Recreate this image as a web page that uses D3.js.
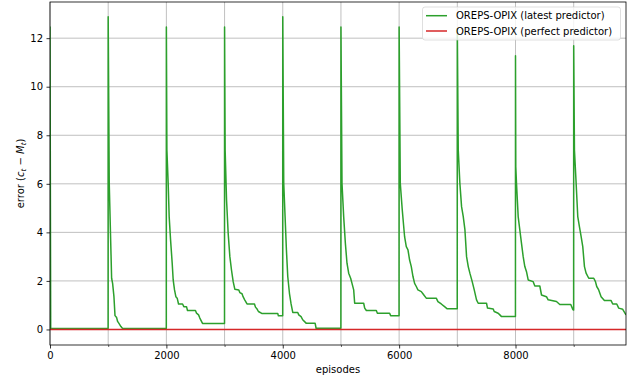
<!DOCTYPE html>
<html>
<head>
<meta charset="utf-8">
<script src="https://cdn.jsdelivr.net/npm/d3@7"></script>
<style>
	body { margin: 0; background: #fff; }
	text { font-family: 'DejaVu Sans', sans-serif; }
</style>
</head>
<body>
<svg id="chart"></svg>
<script>
const WIDTH = 628;
const HEIGHT = 381;
const MARGIN = { top: 2, right: 2, bottom: 36, left: 50 };

// error per episode as [episode, error] pairs, one list per 1000-episode cycle
const cycle0 = [[0, 12.48], [12, 0.04], [999, 0.04]];
const cycle1 = [[1000, 12.88], [1018, 6.02], [1059, 2.11], [1076, 1.9], [1099, 1.35], [1117, 0.57], [1145, 0.49], [1162, 0.33], [1190, 0.23], [1219, 0.12], [1248, 0.04], [1999, 0.04]];
const cycle2 = [[2000, 12.46], [2009, 7.39], [2031, 6.02], [2048, 4.65], [2072, 3.69], [2100, 2.73], [2117, 2.04], [2140, 1.63], [2163, 1.35], [2186, 1.29], [2209, 1.05], [2278, 1.05], [2300, 0.94], [2346, 0.94], [2363, 0.78], [2500, 0.78], [2518, 0.67], [2553, 0.6], [2575, 0.47], [2621, 0.25], [2999, 0.25]];
const cycle3 = [[3000, 12.46], [3010, 7.39], [3034, 5.33], [3062, 3.96], [3091, 3.0], [3119, 2.45], [3148, 1.97], [3176, 1.66], [3245, 1.63], [3262, 1.52], [3300, 1.47], [3318, 1.35], [3346, 1.22], [3386, 1.05], [3514, 1.05], [3531, 0.92], [3559, 0.84], [3582, 0.74], [3639, 0.66], [3914, 0.66], [3925, 0.56], [3999, 0.56]];
const cycle4 = [[4000, 12.88], [4017, 6.02], [4040, 4.65], [4063, 3.28], [4086, 2.18], [4115, 1.49], [4143, 1.05], [4172, 0.7], [4258, 0.7], [4275, 0.6], [4315, 0.53], [4343, 0.4], [4401, 0.26], [4556, 0.26], [4573, 0.05], [4999, 0.05]];
const cycle5 = [[5000, 12.46], [5018, 6.02], [5047, 4.65], [5076, 3.55], [5104, 2.73], [5133, 2.32], [5167, 2.11], [5190, 1.9], [5219, 1.63], [5236, 1.08], [5391, 1.08], [5408, 0.88], [5437, 0.78], [5608, 0.78], [5626, 0.67], [5837, 0.67], [5854, 0.57], [5999, 0.57]];
const cycle6 = [[6000, 12.46], [6020, 6.02], [6054, 4.92], [6094, 3.82], [6123, 3.41], [6152, 3.28], [6180, 2.86], [6209, 2.59], [6238, 2.18], [6266, 1.9], [6295, 1.77], [6323, 1.63], [6381, 1.56], [6409, 1.47], [6466, 1.29], [6638, 1.29], [6667, 1.15], [6724, 1.05], [6781, 0.94], [6827, 0.85], [6999, 0.85]];
const cycle7 = [[7000, 12.4], [7016, 7.39], [7044, 6.02], [7073, 5.06], [7102, 4.65], [7131, 4.1], [7159, 3.0], [7188, 2.59], [7216, 2.32], [7256, 1.97], [7291, 1.63], [7330, 1.22], [7359, 1.08], [7502, 1.08], [7519, 0.88], [7617, 0.84], [7634, 0.74], [7702, 0.67], [7731, 0.6], [7760, 0.53], [7999, 0.53]];
const cycle8 = [[8000, 11.28], [8005, 6.7], [8017, 6.02], [8046, 4.65], [8074, 4.1], [8103, 3.55], [8132, 3.0], [8160, 2.59], [8189, 2.38], [8218, 2.04], [8304, 1.97], [8332, 1.79], [8418, 1.79], [8447, 1.42], [8532, 1.35], [8561, 1.22], [8704, 1.15], [8761, 1.03], [8950, 1.03], [8985, 0.82], [8999, 0.8]];
const cycle9 = [[9000, 11.69], [9013, 7.39], [9042, 6.02], [9070, 4.65], [9099, 4.23], [9128, 3.82], [9156, 3.41], [9185, 2.59], [9213, 2.32], [9259, 2.11], [9345, 2.11], [9374, 1.97], [9396, 1.77], [9430, 1.63], [9471, 1.35], [9528, 1.19], [9643, 1.19], [9671, 1.05], [9740, 1.05], [9774, 0.88], [9843, 0.83], [9899, 0.6]];

const latestPredictor = [].concat(cycle0, cycle1, cycle2, cycle3, cycle4, cycle5, cycle6, cycle7, cycle8, cycle9);
const perfectPredictor = [[0, 0], [9899, 0]];

const xMajorTicks = [0, 2000, 4000, 6000, 8000];
const xMinorTicks = [1000, 3000, 5000, 7000, 9000];
const yTicks = [0, 2, 4, 6, 8, 10, 12];
const seriesLabels = ['OREPS-OPIX (latest predictor)', 'OREPS-OPIX (perfect predictor)'];
const seriesColors = ['#2ca02c', '#d62728'];

const svg = d3.select('#chart').attr('width', WIDTH).attr('height', HEIGHT);

const x = d3.scaleLinear().domain([0, 9899]).range([MARGIN.left, WIDTH - MARGIN.right]);
const y = d3.scaleLinear().domain([-0.64, 13.49]).range([HEIGHT - MARGIN.bottom, MARGIN.top]);

// grid
svg.append('g')
	.selectAll('line')
	.data(xMajorTicks.concat(xMinorTicks))
	.enter()
	.append('line')
	.attr('x1', (d) => x(d))
	.attr('x2', (d) => x(d))
	.attr('y1', y.range()[0])
	.attr('y2', y.range()[1])
	.attr('stroke', '#b0b0b0')
	.attr('stroke-width', 0.8);

svg.append('g')
	.selectAll('line')
	.data(yTicks)
	.enter()
	.append('line')
	.attr('x1', x.range()[0])
	.attr('x2', x.range()[1])
	.attr('y1', (d) => y(d))
	.attr('y2', (d) => y(d))
	.attr('stroke', '#b0b0b0')
	.attr('stroke-width', 0.8);

svg.append('clipPath')
	.attr('id', 'plot-clip')
	.append('rect')
	.attr('x', x.range()[0])
	.attr('y', y.range()[1])
	.attr('width', x.range()[1] - x.range()[0])
	.attr('height', y.range()[0] - y.range()[1]);

const line = d3.line()
	.x((d) => x(d[0]))
	.y((d) => y(d[1]));

const plot = svg.append('g').attr('clip-path', 'url(#plot-clip)');

plot.selectAll('path')
	.data([latestPredictor, perfectPredictor])
	.enter()
	.append('path')
	.attr('d', line)
	.attr('fill', 'none')
	.attr('stroke', (_d, i) => seriesColors[i])
	.attr('stroke-width', 1.5)
	.attr('stroke-linejoin', 'round');

// axes
const xAxis = svg.append('g')
	.attr('transform', `translate(0,${y.range()[0]})`)
	.call(d3.axisBottom(x).tickValues(xMajorTicks).tickSize(3.5).tickPadding(3.5).tickFormat(d3.format('d')));

svg.append('g')
	.attr('transform', `translate(0,${y.range()[0]})`)
	.call(d3.axisBottom(x).tickValues(xMinorTicks).tickSize(2).tickFormat(''))
	.call((g) => g.select('.domain').remove())
	.selectAll('line')
	.attr('stroke-width', 0.6);

const yAxis = svg.append('g')
	.attr('transform', `translate(${x.range()[0]},0)`)
	.call(d3.axisLeft(y).tickValues(yTicks).tickSize(3.5).tickPadding(3.5));

[xAxis, yAxis].forEach((g) => {
	g.selectAll('.domain').remove();
	g.selectAll('line').attr('stroke', '#000').attr('stroke-width', 0.8);
	g.selectAll('text').attr('font-size', 10).attr('fill', '#000').attr('font-family', 'DejaVu Sans');
});

// frame
svg.append('rect')
	.attr('x', x.range()[0])
	.attr('y', y.range()[1])
	.attr('width', x.range()[1] - x.range()[0])
	.attr('height', y.range()[0] - y.range()[1])
	.attr('fill', 'none')
	.attr('stroke', '#000')
	.attr('stroke-width', 0.8);

// labels
svg.append('text')
	.attr('x', (x.range()[0] + x.range()[1]) / 2)
	.attr('y', 373)
	.attr('text-anchor', 'middle')
	.attr('font-size', 10)
	.text('episodes');

const yLabel = svg.append('text')
	.attr('transform', `translate(24,${(y.range()[0] + y.range()[1]) / 2}) rotate(-90)`)
	.attr('text-anchor', 'middle')
	.attr('font-size', 10);
yLabel.append('tspan').text('error (');
yLabel.append('tspan').attr('font-style', 'italic').text('c');
yLabel.append('tspan').attr('font-style', 'italic').attr('font-size', 7).attr('dy', 1.5).text('t');
yLabel.append('tspan').attr('dy', -1.5).text(' − ');
yLabel.append('tspan').attr('font-style', 'italic').text('M');
yLabel.append('tspan').attr('font-style', 'italic').attr('font-size', 7).attr('dy', 1.5).text('t');
yLabel.append('tspan').attr('dy', -1.5).text(')');

// legend
const legend = svg.append('g').attr('transform', 'translate(422.5,7)');
legend.append('rect')
	.attr('width', 198)
	.attr('height', 33)
	.attr('rx', 2.5)
	.attr('fill', '#fff')
	.attr('fill-opacity', 0.8)
	.attr('stroke', '#cccccc')
	.attr('stroke-opacity', 0.8)
	.attr('stroke-width', 0.8);

const entries = legend.selectAll('g')
	.data(seriesLabels)
	.enter()
	.append('g')
	.attr('transform', (_d, i) => `translate(0,${8.7 + i * 15.3})`);

entries.append('line')
	.attr('x1', 3.5)
	.attr('x2', 24.5)
	.attr('stroke', (_d, i) => seriesColors[i])
	.attr('stroke-width', 1.5);

entries.append('text')
	.attr('x', 33.5)
	.attr('y', 3.6)
	.attr('font-size', 10)
	.text((d) => d);
</script>
</body>
</html>
